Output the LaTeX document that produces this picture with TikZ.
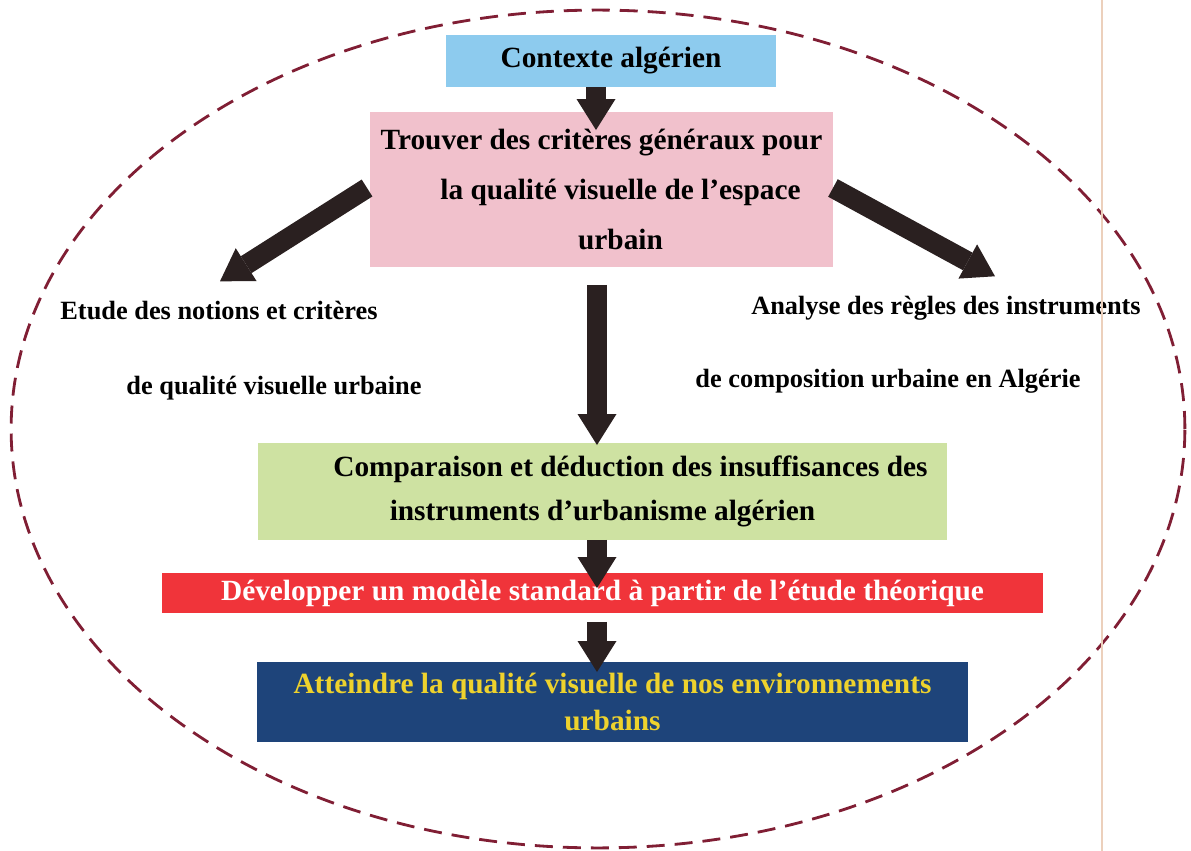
\documentclass[tikz,border=0pt]{standalone}
\usepackage{fontspec}
\setmainfont{Liberation Serif}
\usetikzlibrary{positioning, calc, arrows.meta}

\definecolor{ctxblue}{RGB}{141,203,238}
\definecolor{critpink}{RGB}{241,193,204}
\definecolor{cmpgreen}{RGB}{206,226,162}
\definecolor{devred}{RGB}{240,52,58}
\definecolor{attnavy}{RGB}{30,68,122}
\definecolor{attyellow}{RGB}{238,210,45}
\definecolor{arrdark}{RGB}{42,32,32}
\definecolor{ellmaroon}{RGB}{128,30,52}
\definecolor{margtan}{RGB}{236,208,188}

\begin{document}
\begin{tikzpicture}[x=0.02cm, y=0.02cm,
  every node/.append style={inner sep=2.5pt, outer sep=0pt},
  ctxbox/.style={fill=ctxblue,  minimum width=6.6cm,   minimum height=1.04cm, align=center, font=\fontsize{16.7}{28.5}\selectfont\bfseries},
  critbox/.style={fill=critpink, minimum width=9.26cm, minimum height=3.1cm,  align=center, font=\fontsize{16.7}{28.5}\selectfont\bfseries},
  cmpbox/.style={fill=cmpgreen, minimum width=13.78cm, minimum height=1.94cm, align=center, font=\fontsize{16.7}{25.5}\selectfont\bfseries},
  devbox/.style={fill=devred,   minimum width=17.62cm, minimum height=0.8cm,  align=center, text=white, font=\fontsize{16.7}{20}\selectfont\bfseries},
  attbox/.style={fill=attnavy,  minimum width=14.22cm, minimum height=1.6cm,  align=center, text=attyellow, font=\fontsize{16.7}{21}\selectfont\bfseries},
  side/.style={anchor=base, font=\fontsize{15}{18}\selectfont\bfseries},
  bigarr/.style={draw=arrdark, line width=0.4cm, -{Triangle[width=0.78cm, length=0.62cm, line width=0pt]}},
  ellip/.style={draw=ellmaroon, line width=1.6pt, dash pattern=on 0.36cm off 0.2cm},
]
\useasboundingbox (0,0) rectangle (1191,-851);

%% ─── outer dashed ellipse ───────────────────────────────────────────────
\draw[ellip] (598,-429) ellipse [x radius=11.74cm, y radius=8.38cm];

%% ─── boxes, top to bottom ─────────────────────────────────────────────────
\node[ctxbox]  (ctx)   at (611,-61)     {Contexte algérien};
\node[critbox] (trouv) at (601.5,-189.5) {Trouver des critères généraux pour\\\hspace*{0.76cm}la qualité visuelle de l’espace\\\hspace*{0.76cm}urbain};
\node[cmpbox]  (cmp)   at (602.5,-491.5) {\hspace*{1.12cm}Comparaison et déduction des insuffisances des\\instruments d’urbanisme algérien};
\node[devbox]  (dev)   at (602.5,-593)   {Développer un modèle standard à partir de l’étude théorique};
\node[attbox]  (att)   at (612.5,-702)   {Atteindre la qualité visuelle de nos environnements\\urbains};

%% ─── side texts ───────────────────────────────────────────────────────────
\node[side] (etude1) at (219,-320) {Etude des notions et critères};
\node[side] (etude2) at (274,-395) {de qualité visuelle urbaine};
\node[side] (anal1)  at (946,-315) {Analyse des règles des instruments};
\node[side] (anal2)  at (888,-388) {de composition urbaine en Algérie};

%% ─── arrows ───────────────────────────────────────────────────────────────
\draw[bigarr] ($(ctx.south)+(-15,0)$)    -- ($(trouv.north)+(-5.5,-18)$);
\draw[bigarr] ($(trouv.west)+(-3,1.5)$)  -- ($(etude1.north)+(1,16)$);
\draw[bigarr] ($(trouv.east)+(0,1.5)$)   -- ($(anal1.north)+(49,16)$);
\draw[bigarr] ($(trouv.south)+(-4.5,-18)$) -- ($(cmp.north)+(-5.5,-2)$);
\draw[bigarr] ($(cmp.south)+(-5.5,0)$)   -- ($(dev.north)+(-5.5,-15)$);
\draw[bigarr] ($(dev.south)+(-5.5,-9)$)  -- ($(att.north)+(-15.5,-10)$);

%% ─── page margin line ─────────────────────────────────────────────────────
\draw[margtan, line width=1pt] (1102,0) -- (1102,-851);

\end{tikzpicture}
\end{document}
